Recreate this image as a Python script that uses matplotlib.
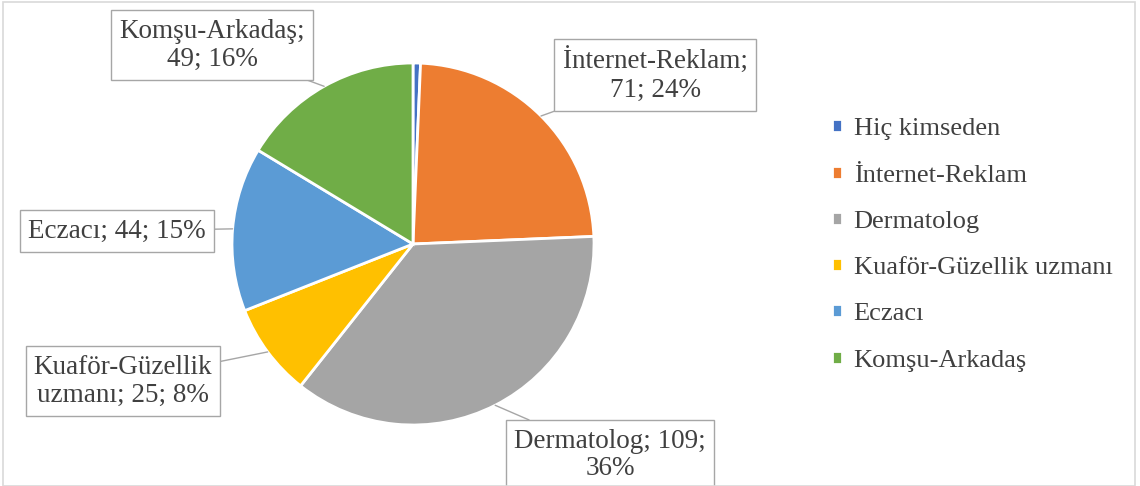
import numpy as np
import matplotlib.pyplot as plt
from matplotlib.patches import Rectangle

plt.rcParams['font.family'] = ['Liberation Serif', 'DejaVu Serif']

categories = ['Hiç kimseden', 'İnternet-Reklam', 'Dermatolog',
              'Kuaför-Güzellik uzmanı', 'Eczacı', 'Komşu-Arkadaş']
counts = [2, 71, 109, 25, 44, 49]
colors = ['#4472c4', '#ed7d31', '#a5a5a5', '#ffc000', '#5b9bd5', '#70ad47']
label_text = [None,
              'İnternet-Reklam;\n71; 24%',
              'Dermatolog; 109;\n36%',
              'Kuaför-Güzellik\nuzmanı; 25; 8%',
              'Eczacı; 44; 15%',
              'Komşu-Arkadaş;\n49; 16%']
# label box centres in figure pixels (x from left, y from top)
label_pos = [None, (655, 75), (610, 455), (123, 381), (117, 231), (212, 45)]

W, H = 1140, 486
fig = plt.figure(figsize=(W / 100, H / 100), dpi=100)

# outer chart frame
fig.patches.append(Rectangle((3 / W, 0), (1132) / W, (H - 2) / H,
                             transform=fig.transFigure, fill=False,
                             edgecolor='#d9d9d9', linewidth=1.2))

cx, cy, r = 413, 244, 181
ax = fig.add_axes([(cx - r) / W, (H - cy - r) / H, 2 * r / W, 2 * r / H])
wedges, _ = ax.pie(counts, colors=colors, startangle=90, counterclock=False,
                   wedgeprops=dict(edgecolor='white', linewidth=2))
ax.set_xlim(-1, 1)
ax.set_ylim(-1, 1)

for w, txt, pos in zip(wedges, label_text, label_pos):
    if txt is None:
        continue
    ang = np.deg2rad((w.theta1 + w.theta2) / 2)
    px, py = pos
    ax.annotate(txt, xy=(np.cos(ang), np.sin(ang)),
                xytext=(px / W, 1 - py / H), textcoords='figure fraction',
                ha='center', va='center', fontsize=19.5, color='#404040',
                linespacing=1.15, annotation_clip=False,
                bbox=dict(boxstyle='square,pad=0.3', fc='white',
                          ec='#a6a6a6', lw=1),
                arrowprops=dict(arrowstyle='-', color='#a6a6a6', lw=1,
                                shrinkA=0, shrinkB=0))

leg = fig.legend(wedges, categories, loc='center left',
                 bbox_to_anchor=(808 / W, 1 - 245 / H), frameon=False,
                 fontsize=19, labelcolor='#404040', handlelength=0.38,
                 handleheight=0.38, handletextpad=0.45, labelspacing=0.92)

fig.savefig('out.png', dpi=100)
